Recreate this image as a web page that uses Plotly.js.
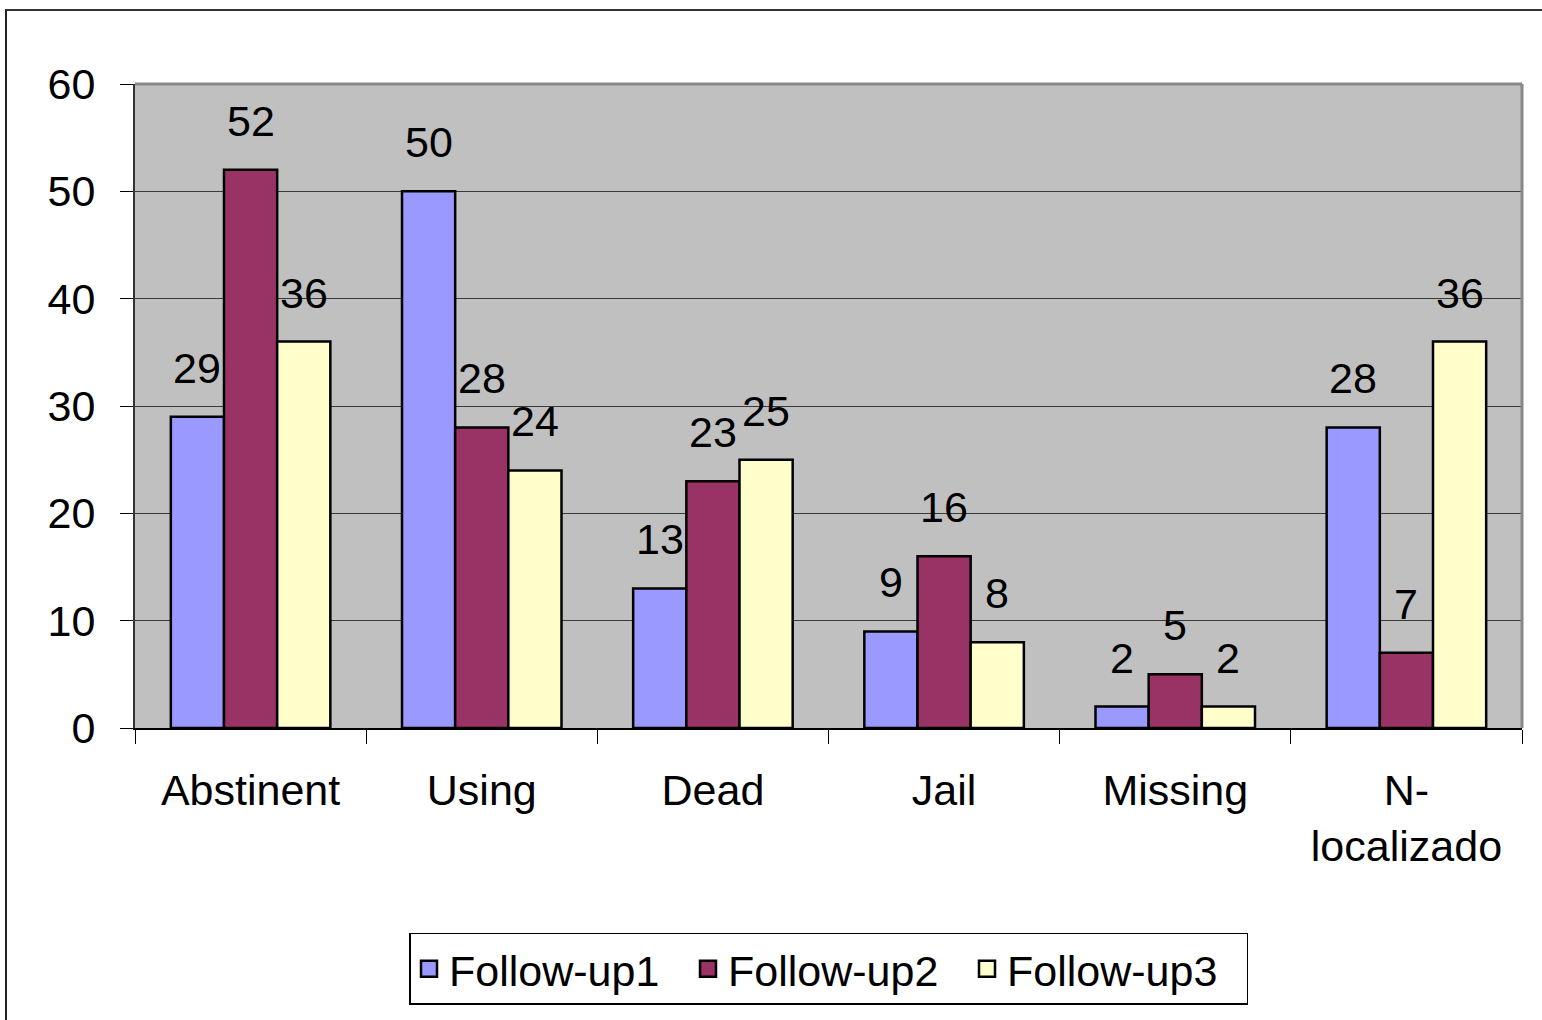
<!DOCTYPE html>
<html>
<head>
<meta charset="utf-8">
<script src="https://cdn.plot.ly/plotly-3.0.1.min.js"></script>
<style>
  html, body { margin: 0; padding: 0; background: #fff; overflow: hidden; }
  #chart { position: absolute; left: 0; top: 0; width: 1542px; height: 1020px; }
  #frame { position: absolute; left: 5px; top: 9px; width: 3000px; height: 3000px;
           border-left: 2px solid #222; border-top: 2px solid #333; pointer-events: none; }
</style>
</head>
<body>
<div id="chart"></div>
<div id="frame"></div>
<script>
const categories = ["Abstinent", "Using", "Dead", "Jail", "Missing", "N-<br>localizado"];
const seriesNames = ["Follow-up1", "Follow-up2", "Follow-up3"];
const followUp1 = [29, 50, 13, 9, 2, 28];
const followUp2 = [52, 28, 23, 16, 5, 7];
const followUp3 = [36, 24, 25, 8, 2, 36];
const seriesValues = [followUp1, followUp2, followUp3];
const seriesColors = ["#9999FF", "#993366", "#FFFFCC"];
const yTicks = [0, 10, 20, 30, 40, 50, 60];

const FONT = "Liberation Sans, Arial, sans-serif";
const FS = 43;
const BARGAP = 0.31;
const barW = (1 - BARGAP) / seriesValues.length;

const traces = seriesValues.map((vals, s) => ({
  type: "bar",
  name: seriesNames[s],
  x: categories,
  y: vals,
  legendgroup: "g" + s,
  showlegend: false,
  marker: { color: seriesColors[s], line: { color: "#000", width: 2.5 } },
  hoverinfo: "x+y+name"
}));

// legend-only entries with larger square swatches
seriesNames.forEach((name, s) => {
  traces.push({
    type: "scatter",
    mode: "markers",
    name: name,
    x: [null], y: [null],
    legendgroup: "g" + s,
    showlegend: true,
    marker: { symbol: "square", size: 22, color: seriesColors[s], line: { color: "#000", width: 2.5 } },
    hoverinfo: "skip"
  });
});

const annotations = [];
seriesValues.forEach((vals, s) => {
  vals.forEach((v, i) => {
    annotations.push({
      x: i + (s - (seriesValues.length - 1) / 2) * barW,
      y: v,
      xref: "x", yref: "y",
      text: String(v),
      showarrow: false,
      yanchor: "bottom",
      xanchor: "center",
      yshift: 23,
      font: { family: FONT, size: FS, color: "#000" }
    });
  });
});

const layout = {
  width: 1542, height: 1020,
  margin: { l: 135, r: 20, t: 84, b: 292 },
  paper_bgcolor: "#fff",
  plot_bgcolor: "#C0C0C0",
  barmode: "group",
  bargap: BARGAP,
  bargroupgap: 0,
  font: { family: FONT, size: FS, color: "#000" },
  showlegend: true,
  legend: {
    orientation: "h",
    x: 0.5, xanchor: "center",
    y: -0.318, yanchor: "top",
    bordercolor: "#000", borderwidth: 1.5,
    bgcolor: "#fff",
    font: { family: FONT, size: FS, color: "#000" },
    entrywidth: 234,
    entrywidthmode: "pixels",
    tracegroupgap: 0
  },
  xaxis: {
    type: "category",
    tickson: "boundaries",
    ticks: "outside", ticklen: 14, tickwidth: 1, tickcolor: "#000",
    showline: true, linecolor: "#000", linewidth: 1.5,
    showgrid: false,
    ticklabelstandoff: 24,
    tickfont: { family: FONT, size: FS, color: "#000" },
    fixedrange: true
  },
  yaxis: {
    range: [0, 60],
    tickvals: yTicks,
    ticktext: yTicks.map(String),
    ticks: "outside", ticklen: 13, tickwidth: 1, tickcolor: "#000",
    showline: true, linecolor: "#333", linewidth: 2,
    showgrid: true, gridcolor: "#3a3a3a", gridwidth: 1,
    zeroline: false,
    ticklabelstandoff: 16,
    tickfont: { family: FONT, size: FS, color: "#000" },
    fixedrange: true
  },
  shapes: [
    { type: "line", xref: "paper", yref: "paper", x0: 0, x1: 1, y0: 1, y1: 1,
      line: { color: "#888", width: 3 } },
    { type: "line", xref: "paper", yref: "paper", x0: 1, x1: 1, y0: 0, y1: 1,
      line: { color: "#888", width: 3 } }
  ],
  annotations: annotations
};

Plotly.newPlot("chart", traces, layout, { displayModeBar: false, staticPlot: true });
</script>
</body>
</html>
